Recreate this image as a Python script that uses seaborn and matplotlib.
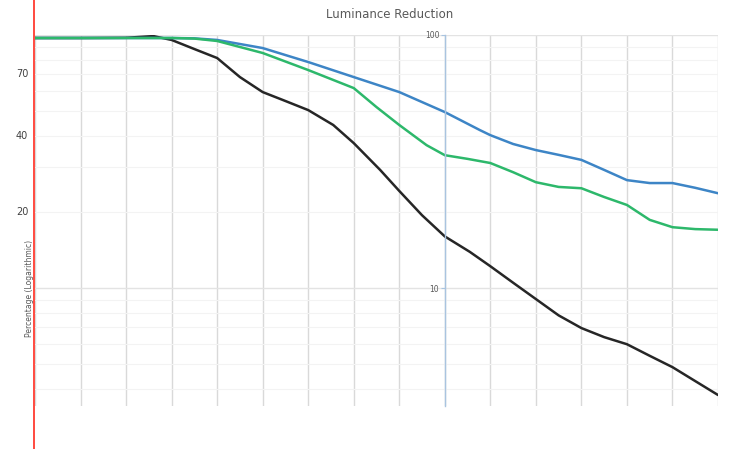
import pandas as pd
import seaborn as sns
import matplotlib.pyplot as plt
from matplotlib.lines import Line2D
from matplotlib.ticker import LogLocator, NullFormatter, FixedLocator, FixedFormatter
import matplotlib.transforms as mtransforms

# step positions (one per vertical gridline), percentages
black_x = [0, 1, 2, 2.6, 3, 3.5, 4, 4.5, 5, 5.45, 6, 6.55, 7, 7.58, 8, 8.5, 9, 9.55,
           10, 10.5, 11, 11.5, 12, 12.5, 13, 13.5, 14, 14.5, 15]
black_y = [97.3, 97.3, 97.5, 99.0, 95.6, 88.0, 81.1, 68.2, 59.5, 55.3, 50.5, 44.1, 37.4,
           29.3, 24.2, 19.4, 16.0, 13.9, 12.2, 10.5, 9.05, 7.8, 6.95, 6.4, 6.0, 5.4,
           4.87, 4.29, 3.78]

blue_x = [0, 1, 2, 3, 3.5, 4, 5, 6, 7, 8, 9, 9.77, 10, 10.5, 11, 11.5, 12, 12.5, 13,
          13.5, 14, 14.5, 15]
blue_y = [97.3, 97.3, 97.3, 97.3, 97.0, 95.6, 88.8, 78.2, 68.2, 59.5, 49.6, 42.1, 40.2,
          37.1, 35.1, 33.6, 32.1, 29.3, 26.7, 26.0, 26.0, 24.9, 23.7]

green_x = [0, 1, 2, 3, 3.5, 4, 5, 6, 7, 7.5, 8, 8.6, 9, 9.5, 10, 10.5, 11, 11.5, 12,
           12.5, 13, 13.5, 14, 14.5, 15]
green_y = [97.3, 97.3, 97.3, 97.3, 96.8, 94.7, 84.9, 72.7, 61.7, 51.9, 44.1, 36.7, 33.5,
           32.4, 31.2, 28.7, 26.2, 25.1, 24.8, 22.9, 21.3, 18.6, 17.4, 17.1, 17.0]

left_labels = [70, 40, 20]

df = pd.concat([
    pd.DataFrame({"step": black_x, "pct": black_y, "series": "black"}),
    pd.DataFrame({"step": blue_x, "pct": blue_y, "series": "blue"}),
    pd.DataFrame({"step": green_x, "pct": green_y, "series": "green"}),
])

sns.set_style("whitegrid")
fig = plt.figure(figsize=(7.35, 4.49), dpi=100)
ax = fig.add_axes([35 / 735, (449 - 406) / 449, (718 - 35) / 735, (406 - 35) / 449])

palette = {"black": "#262626", "blue": "#3d85c6", "green": "#2db86b"}
sns.lineplot(data=df, x="step", y="pct", hue="series", palette=palette,
             linewidth=1.8, legend=False, ax=ax, sort=False)
for ln in ax.lines:
    ln.set_solid_joinstyle("round")

ax.set_yscale("log")
ax.set_ylim(3.42, 100)
ax.set_xlim(0, 15)

ax.xaxis.set_major_locator(FixedLocator(range(16)))
ax.tick_params(axis="x", length=0, labelbottom=False)
ax.set_xlabel("")
ax.set_ylabel("")

ax.yaxis.set_major_locator(FixedLocator([10, 100]))
ax.yaxis.set_major_formatter(FixedFormatter(["10", "100"]))
ax.yaxis.set_minor_locator(LogLocator(base=10, subs=range(2, 10)))
ax.yaxis.set_minor_formatter(NullFormatter())
ax.tick_params(axis="y", which="major", length=3, color="#a9c4e0", labelsize=5.5,
               labelcolor="#595959", pad=1, left=True)
ax.tick_params(axis="y", which="minor", length=0)

ax.grid(True, which="major", axis="x", color="#d9d9d9", linewidth=1)
ax.grid(True, which="major", axis="y", color="#e3e3e3", linewidth=1)
ax.grid(True, which="minor", axis="y", color="#f3f3f3", linewidth=0.8)

for side in ["top", "right", "bottom"]:
    ax.spines[side].set_visible(False)
ax.spines["left"].set_position(("data", 9))
ax.spines["left"].set_color("#a9c4e0")
ax.spines["left"].set_linewidth(1)

trans = mtransforms.blended_transform_factory(fig.transFigure, ax.transData)
for v in left_labels:
    ax.text(22 / 735, v, str(v), transform=trans, ha="center", va="center",
            fontsize=7, color="#404040")

fig.text(390 / 735, 1 - 15 / 449, "Luminance Reduction", ha="center", va="center",
         fontsize=8.5, color="#595959")
fig.text(30 / 735, 1 - 288 / 449, "Percentage (Logarithmic)", rotation=90,
         ha="center", va="center", fontsize=5.5, color="#595959")

fig.add_artist(Line2D([34 / 735, 34 / 735], [0, 1], color="#ff3b30", linewidth=1.3))

fig.savefig("out.png", dpi=100)
